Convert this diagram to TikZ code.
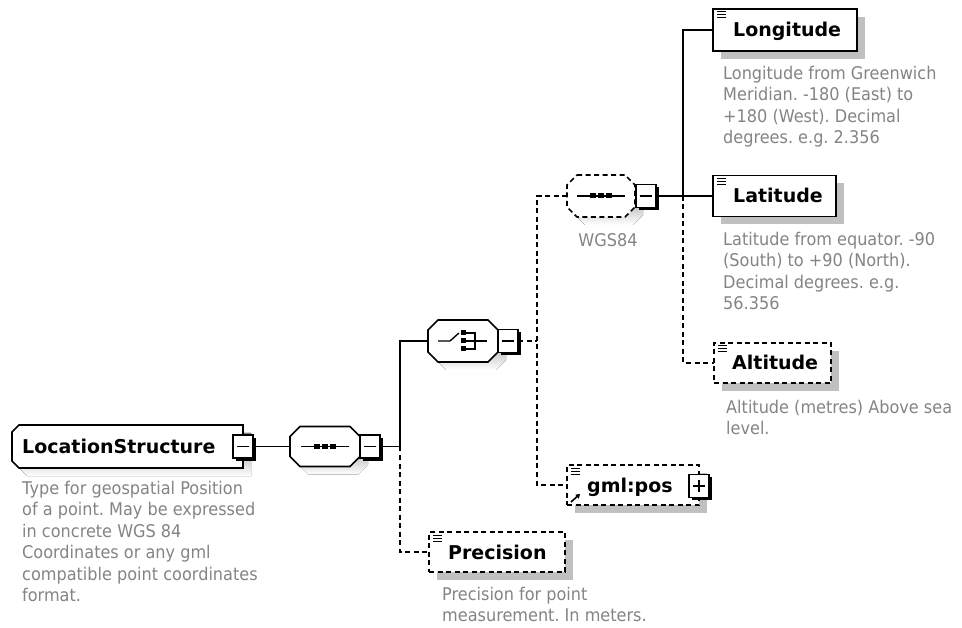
\documentclass[tikz,border=0pt]{standalone}
\usepackage{fontspec}
\setmainfont{DejaVu Sans}
\newfontfamily\descfamily{DejaVu Sans}[FakeStretch=0.92]
\usetikzlibrary{shadows,arrows.meta}
\definecolor{descgray}{RGB}{132,132,132}
\definecolor{shade}{RGB}{192,192,192}
% octagon path around a geometry node: #1 node, #2 chamfer, #3 x offset, #4 y offset (down)
\newcommand\octpath[4]{([xshift=#3+#2,yshift=-#4]#1.north west) -- ([xshift=#3-#2,yshift=-#4]#1.north east) -- ([xshift=#3,yshift=-#4-#2]#1.north east) -- ([xshift=#3,yshift=-#4+#2]#1.south east) -- ([xshift=#3-#2,yshift=-#4]#1.south east) -- ([xshift=#3+#2,yshift=-#4]#1.south west) -- ([xshift=#3,yshift=-#4+#2]#1.south west) -- ([xshift=#3,yshift=-#4-#2]#1.north west) -- cycle}
% left-chamfered box path
\newcommand\lspath[4]{([xshift=#3+#2,yshift=-#4]#1.north west) -- ([xshift=#3,yshift=-#4]#1.north east) -- ([xshift=#3,yshift=-#4]#1.south east) -- ([xshift=#3+#2,yshift=-#4]#1.south west) -- ([xshift=#3,yshift=-#4+#2]#1.south west) -- ([xshift=#3,yshift=-#4-#2]#1.north west) -- cycle}
\newcommand\elicon[1]{\foreach \dy in {3,6,9}{\draw[line width=1pt] ([xshift=4pt,yshift=-\dy pt]#1.north west) -- ++(9,0);}}
\newcommand\seqsym[1]{\draw[line width=1.3pt] ([xshift=-24pt]#1.center) -- ([xshift=24pt]#1.center);
  \foreach \dx in {-8,0,8}{\fill ([xshift=\dx pt]#1.center) +(-2.7,-2.5) rectangle +(2.7,2.5);}}
\newcommand\minussign[1]{\draw[line width=1.2pt] ([xshift=-6pt]#1.center) -- ([xshift=6pt]#1.center);}
\begin{document}
\begin{tikzpicture}[x=1pt,y=-1pt,
 conn/.style={line width=1.5pt},
 dconn/.style={conn, dash pattern=on 5pt off 3.5pt},
 shd/.style={drop shadow={shadow xshift=8pt,shadow yshift=-8pt,fill=shade,opacity=1}},
 elbox/.style={draw, fill=white, line width=1.6pt, inner sep=0pt, outer sep=0pt, shd},
 optbox/.style={elbox, dash pattern=on 5pt off 3.5pt},
 geo/.style={inner sep=0pt, outer sep=0pt, draw=none},
 octline/.style={line width=1.6pt, fill=white},
 tog/.style={draw, fill=white, line width=1.3pt, inner sep=0pt, outer sep=0pt, minimum width=20pt, minimum height=23pt, drop shadow={shadow xshift=2.6pt,shadow yshift=-2.6pt,fill=black,opacity=1}},
 ttl/.style={font=\fontsize{19}{22}\selectfont\bfseries, inner sep=0pt, anchor=base west},
 dsc/.style={font=\descfamily\fontsize{17.5}{21.5}\selectfont\frenchspacing, text=descgray, align=left, inner sep=0pt, anchor=north west},
]
\fill[white] (0,0) rectangle (962,628);
\useasboundingbox (0,0) rectangle (962,628);

% ---------- LocationStructure ----------
\node[geo, minimum width=231pt, minimum height=43pt] (ls) at (127.5,446.5) {};
\fill[shade] \lspath{ls}{7pt}{8pt}{8pt};
\draw[octline] \lspath{ls}{7pt}{0pt}{0pt};
\node[ttl] (lst) at (22,453.5) {LocationStructure};
\node[tog] (lsm) at (243,446.5) {};
\minussign{lsm}
\node[dsc] (lsd) at (22,481) {Type for geospatial Position\\of a point. May be expressed\\in concrete WGS 84\\Coordinates or any gml\\compatible point coordinates\\format.};

% ---------- sequence 1 ----------
\node[geo, minimum width=70pt, minimum height=40pt] (s1) at (325,446.5) {};
\fill[shade] \octpath{s1}{10pt}{8pt}{8pt};
\draw[octline] \octpath{s1}{10pt}{0pt}{0pt};
\seqsym{s1}
\node[tog] (s1m) at (370,446.5) {};
\minussign{s1m}

% ---------- choice ----------
\node[geo, minimum width=70pt, minimum height=42pt] (ch) at (463,341) {};
\fill[shade] \octpath{ch}{10pt}{8pt}{8pt};
\draw[octline] \octpath{ch}{10pt}{0pt}{0pt};
\draw[line width=1.3pt] ([xshift=-25pt]ch.center) -- ([xshift=-13pt]ch.center) -- ([xshift=-4pt,yshift=8pt]ch.center);
\foreach \dy in {-8,0,8}{\fill ([yshift=\dy pt]ch.center) +(-2.5,-2.5) rectangle +(2.5,2.5);}
\draw[line width=1.3pt] ([xshift=3pt,yshift=8pt]ch.center) -- ([xshift=12pt,yshift=8pt]ch.center) -- ([xshift=12pt,yshift=-8pt]ch.center) -- ([xshift=3pt,yshift=-8pt]ch.center);
\draw[line width=1.3pt] ([xshift=3pt]ch.center) -- ([xshift=24pt]ch.center);
\node[tog] (chm) at (508,341) {};
\minussign{chm}

% ---------- WGS84 sequence ----------
\node[geo, minimum width=68pt, minimum height=42pt] (wg) at (601,196) {};
\fill[shade] \octpath{wg}{10pt}{8pt}{8pt};
\draw[octline, dash pattern=on 5pt off 3.5pt] \octpath{wg}{10pt}{0pt}{0pt};
\seqsym{wg}
\node[tog] (wgm) at (646,196) {};
\minussign{wgm}
\node[font=\descfamily\fontsize{17.5}{21.5}\selectfont, text=descgray, inner sep=0pt] (wgl) at (608,240) {WGS84};

% ---------- elements ----------
\node[elbox, minimum width=144pt, minimum height=42pt] (lon) at (785,30) {};
\elicon{lon}
\node[ttl] (lont) at (733,37) {Longitude};
\node[dsc] (lond) at (723,66) {Longitude from Greenwich\\Meridian. -180 (East) to\\+180 (West). Decimal\\degrees. e.g. 2.356};

\node[elbox, minimum width=123pt, minimum height=41pt] (lat) at (774.5,196) {};
\elicon{lat}
\node[ttl] (latt) at (733,203) {Latitude};
\node[dsc] (latd) at (723,232) {Latitude from equator. -90\\(South) to +90 (North).\\Decimal degrees. e.g.\\56.356};

\node[optbox, minimum width=117pt, minimum height=40pt] (alt) at (772.5,363) {};
\elicon{alt}
\node[ttl] (altt) at (732,370) {Altitude};
\node[dsc] (altd) at (726,400) {Altitude (metres) Above sea\\level.};

\node[optbox, minimum width=132pt, minimum height=40pt] (gm) at (633,485) {};
\elicon{gm}
\draw[line width=1.6pt, -{Triangle[length=4pt,width=5pt]}] ([xshift=4pt,yshift=3pt]gm.south west) -- ++(9,-8);
\node[ttl] (gmt) at (587,492) {gml:pos};
\node[tog] (gmp) at (699,486) {};
\minussign{gmp}
\draw[line width=1.2pt] ([yshift=-6pt]gmp.center) -- ([yshift=6pt]gmp.center);

\node[optbox, minimum width=136pt, minimum height=40pt] (pr) at (497,552) {};
\elicon{pr}
\node[ttl] (prt) at (448,559) {Precision};
\node[dsc] (prd) at (442,587) {Precision for point\\measurement. In meters.};

% ---------- connectors ----------
\coordinate (j1) at (400,446.5);
\coordinate (j2) at (537,341);
\coordinate (j3) at (683,196);
\draw[conn] (lsm.east) -- (s1.west);
\draw[conn] (s1m.east) -- (j1) |- (ch.west);
\draw[dconn] (j1) |- (pr.west);
\draw[dconn] (chm.east) -- (j2);
\draw[dconn] (wg.west) -| (j2) |- (gm.west);
\draw[conn] (wgm.east) -- (lat.west);
\draw[conn] (j3) |- (lon.west);
\draw[dconn] (j3) |- (alt.west);
\end{tikzpicture}
\end{document}
